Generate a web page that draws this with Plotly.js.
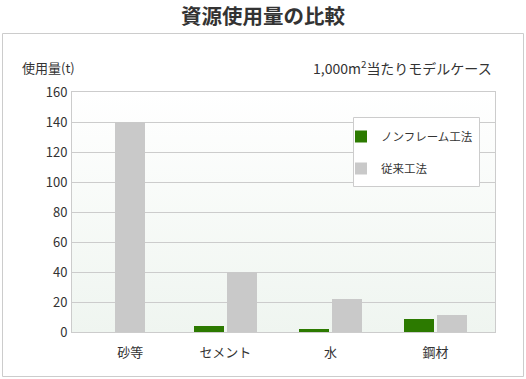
<!DOCTYPE html>
<html>
<head>
<meta charset="utf-8">
<script src="https://cdn.plot.ly/plotly-3.0.1.min.js"></script>
<style>
html,body{margin:0;padding:0;background:#fff;}
#chart{width:526px;height:379px;}
</style>
</head>
<body>
<div id="chart"></div>
<script>
// ---- data ----
var categories = ['砂等', 'セメント', '水', '鋼材'];
var categoryLabels = ['\u2003\u2002砂等', 'セメント', '水', '鋼材'];
var seriesNames = ['ノンフレーム工法', '従来工法'];
var nonFrameValues = [null, 4, 2, 9];
var conventionalValues = [140, 40, 22, 11.5];
var yTickValues = [0, 20, 40, 60, 80, 100, 120, 140, 160];

// ---- styles ----
var FONT = '"Noto Sans CJK JP", "Noto Sans", sans-serif';
var GREEN = '#2c7a00';
var GRAY = '#c9c9c9';
var barW = 0.2857;
var grayOffsets = [-0.052, 0.0143, 0.0143, 0.0143];

var grad = 'data:image/svg+xml;utf8,' + encodeURIComponent(
  '<svg xmlns="http://www.w3.org/2000/svg" width="10" height="100" preserveAspectRatio="none">' +
  '<defs><linearGradient id="g" x1="0" y1="0" x2="0" y2="1">' +
  '<stop offset="0" stop-color="#ffffff"/><stop offset="1" stop-color="#eff5f0"/></linearGradient></defs>' +
  '<rect width="10" height="100" fill="url(#g)"/></svg>');

var traces = [
  {
    type: 'bar', x: categories, y: nonFrameValues, name: seriesNames[0],
    marker: {color: GREEN}, width: barW, offset: -0.3,
    legendgroup: 'a', hoverinfo: 'skip'
  },
  {
    type: 'bar', x: categories, y: conventionalValues, name: seriesNames[1],
    marker: {color: GRAY}, width: barW, offset: grayOffsets,
    legendgroup: 'b', hoverinfo: 'skip'
  }
];

var L = 72, R = 31, T = 92, B = 47;
var pw = 526 - L - R, ph = 379 - T - B;
function px(x){ return (x - L) / pw; }
function py(y){ return (379 - B - y) / ph; }

var layout = {
  width: 526, height: 379,
  margin: {l: L, r: R, t: T, b: B, pad: 0},
  paper_bgcolor: '#ffffff',
  plot_bgcolor: 'rgba(0,0,0,0)',
  font: {family: FONT, size: 13, color: '#333333'},
  title: {
    text: '<b>資源使用量の比較</b>',
    font: {family: FONT, size: 20.5, color: '#333333'},
    x: 0.5, xref: 'container', xanchor: 'center',
    y: 1 - 17/379, yref: 'container', yanchor: 'middle'
  },
  showlegend: true,
  legend: {
    x: px(341), y: py(122), xanchor: 'left', yanchor: 'top',
    bgcolor: 'rgba(0,0,0,0)', borderwidth: 0,
    font: {family: FONT, size: 11.5, color: '#333333'},
    tracegroupgap: 13, traceorder: 'grouped',
    itemwidth: 30
  },
  xaxis: {
    type: 'category',
    range: [-0.462, 3.567],
    tickmode: 'array', tickvals: categories, ticktext: categoryLabels,
    ticks: '', showgrid: false, zeroline: false,
    showline: true, linecolor: '#cccccc', linewidth: 1, mirror: true,
    tickfont: {family: FONT, size: 13, color: '#333333'},
    ticklabelstandoff: 8, fixedrange: true
  },
  yaxis: {
    range: [0, 160],
    tickmode: 'array', tickvals: yTickValues,
    ticks: '', showgrid: true, gridcolor: '#cccccc', gridwidth: 1,
    zeroline: false,
    showline: true, linecolor: '#cccccc', linewidth: 1, mirror: true,
    tickfont: {family: FONT, size: 13, color: '#333333'},
    ticklabelstandoff: 1, fixedrange: true
  },
  images: [{
    source: grad, xref: 'paper', yref: 'paper', x: 0, y: 1,
    sizex: 1, sizey: 1, xanchor: 'left', yanchor: 'top',
    sizing: 'stretch', layer: 'below'
  }],
  shapes: [
    {
      type: 'rect', xref: 'paper', yref: 'paper',
      x0: px(2.5), x1: px(523.5), y0: py(376.5), y1: py(33.5),
      line: {color: '#cccccc', width: 1}, fillcolor: 'rgba(0,0,0,0)', layer: 'below'
    },
    {
      type: 'rect', xref: 'paper', yref: 'paper',
      x0: px(353.5), x1: px(479.5), y0: py(186.5), y1: py(117.5),
      line: {color: '#cccccc', width: 1}, fillcolor: '#ffffff', layer: 'above'
    }
  ],
  annotations: [
    {
      text: '使用量(t)', xref: 'paper', yref: 'paper',
      x: px(20), y: py(68), xanchor: 'left', yanchor: 'middle',
      showarrow: false, font: {family: FONT, size: 13, color: '#333333'}
    },
    {
      text: '1,000m<sup>2</sup>当たりモデルケース', xref: 'paper', yref: 'paper',
      x: px(494), y: py(68), xanchor: 'right', yanchor: 'middle',
      showarrow: false, font: {family: FONT, size: 14, color: '#333333'}
    }
  ],
  bargap: 0
};

Plotly.newPlot('chart', traces, layout, {displayModeBar: false, staticPlot: true});
</script>
</body>
</html>
